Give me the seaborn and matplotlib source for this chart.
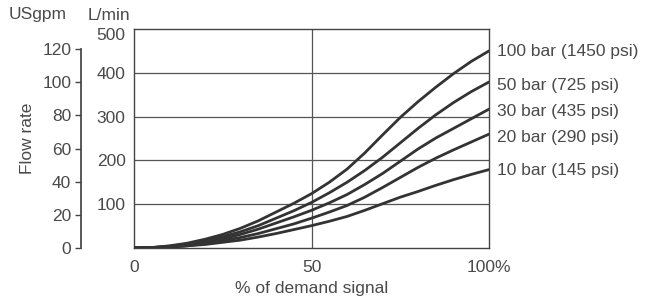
import numpy as np
import pandas as pd
import matplotlib
matplotlib.use("Agg")
import matplotlib.pyplot as plt
import matplotlib.transforms as mtransforms
import seaborn as sns

demand = [0, 5, 10, 15, 20, 25, 30, 35, 40, 45, 50, 55, 60, 65, 70, 75, 80, 85, 90, 95, 100]
flow_100bar = [0, 1, 5, 11, 20, 31, 45, 62, 82, 102, 124, 150, 180, 217, 258, 298, 334, 367, 398, 426, 450]
flow_50bar = [0, 1, 4, 9, 16, 26, 37, 51, 68, 85, 104, 126, 150, 177, 207, 240, 273, 304, 332, 357, 379]
flow_30bar = [0, 1, 3, 7, 13, 21, 31, 43, 57, 71, 86, 103, 122, 145, 170, 198, 226, 251, 273, 295, 317]
flow_20bar = [0, 1, 2, 5, 10, 17, 24, 33, 44, 55, 68, 82, 97, 116, 138, 161, 184, 205, 224, 242, 260]
flow_10bar = [0, 1, 2, 5, 8, 13, 18, 25, 33, 42, 51, 61, 72, 86, 101, 116, 129, 143, 156, 168, 179]
series_labels = ["100 bar (1450 psi)", "50 bar (725 psi)", "30 bar (435 psi)",
                 "20 bar (290 psi)", "10 bar (145 psi)"]
label_y = [448, 370, 312, 253, 178]
lmin_ticks = [100, 200, 300, 400, 500]
usgpm_ticks = [0, 20, 40, 60, 80, 100, 120]
x_ticks = [0, 50, 100]
x_ticklabels = ["0", "50", "100%"]

sns.set_theme(style="white")
plt.rcParams['font.family'] = ['Liberation Sans', 'DejaVu Sans']
txt = "#4a4a4a"
line_c = "#333333"
fs = 12.5

series = [flow_100bar, flow_50bar, flow_30bar, flow_20bar, flow_10bar]
df = pd.concat([pd.DataFrame({"demand": demand, "flow": s, "series": lab})
                for s, lab in zip(series, series_labels)], ignore_index=True)

fig = plt.figure(figsize=(6.46, 3.05), dpi=100)
ax = fig.add_axes([134/646, 1-248/305, (489-134)/646, (248-29)/305])

for lab in series_labels:
    sub = df[df["series"] == lab]
    sns.lineplot(data=sub, x="demand", y="flow", ax=ax, color=line_c,
                 linewidth=2.0, legend=False, zorder=3)

ax.set_xlim(0, 100)
ax.set_ylim(0, 500)
for v in [100, 200, 300, 400]:
    ax.axhline(v, color="#555555", linewidth=0.9, zorder=1)
ax.axvline(50, color="#555555", linewidth=0.9, zorder=1)
for sp in ax.spines.values():
    sp.set_color("#444444")
    sp.set_linewidth(1.0)

ax.set_xticks(x_ticks)
ax.set_xticklabels(x_ticklabels)
ax.set_yticks(lmin_ticks)
ax.set_yticklabels([str(v) for v in lmin_ticks])
ax.tick_params(axis="both", length=0, labelsize=fs, colors=txt)
ax.tick_params(axis="x", pad=9)
ax.tick_params(axis="y", pad=6)
ax.set_xlabel("% of demand signal", fontsize=fs, color=txt, labelpad=4)
ax.set_ylabel("")

# nudge the top L/min label down a little, as in the reference
fig.canvas.draw()
top_lbl = ax.get_yticklabels()[-1]
top_lbl.set_transform(top_lbl.get_transform() +
                      mtransforms.ScaledTranslation(0, -5/100, fig.dpi_scale_trans))

for lab, yv in zip(series_labels, label_y):
    ax.text(102.3, yv, lab, fontsize=fs, color=txt, va="center", ha="left",
            clip_on=False)

ax2 = ax.twinx()
ax2.set_ylim(0, 500 / 3.785)
ax2.yaxis.set_label_position("left")
ax2.yaxis.tick_left()
ax2.spines["left"].set_position(("outward", 53 * 72 / 100))
ax2.spines["left"].set_bounds(0, 120)
ax2.spines["left"].set_color("#444444")
for s in ["right", "top", "bottom"]:
    ax2.spines[s].set_visible(False)
ax2.set_yticks(usgpm_ticks)
ax2.set_yticklabels([str(v) for v in usgpm_ticks])
ax2.tick_params(axis="y", direction="out", length=4, width=1, colors="#444444",
                labelcolor=txt, labelsize=fs, pad=3, left=True, right=False)
ax2.set_ylabel("Flow rate", fontsize=fs, color=txt, labelpad=5)

fig.text(9/646, 1-15/305, "USgpm", fontsize=fs, color=txt, va="center", ha="left")
fig.text(88/646, 1-15/305, "L/min", fontsize=fs, color=txt, va="center", ha="left")

fig.savefig("out.png", dpi=100)
